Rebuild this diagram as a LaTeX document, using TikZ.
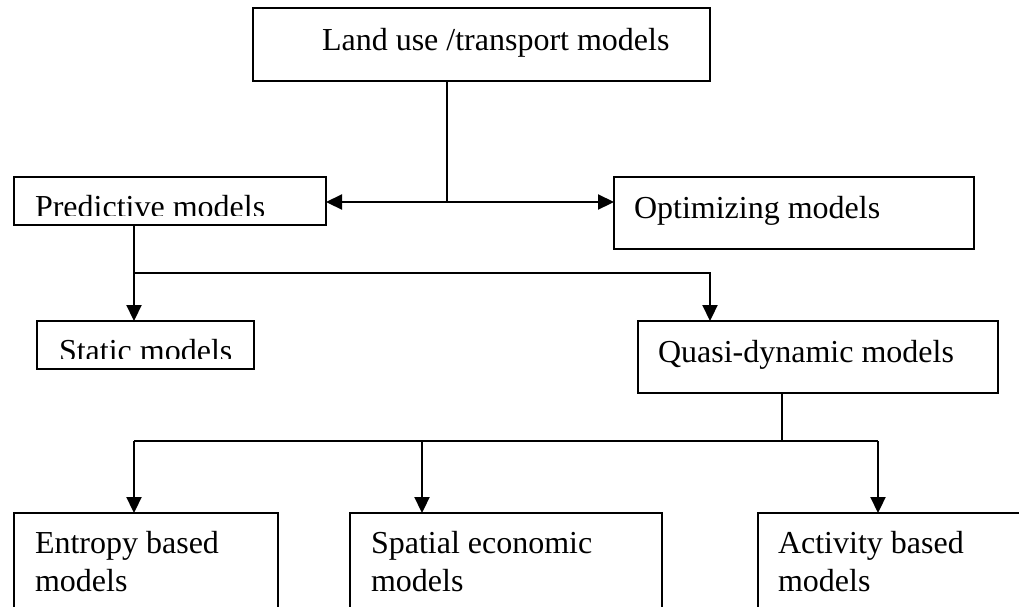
\documentclass[tikz,border=0pt]{standalone}
\usepackage{fontspec}
\setmainfont{Liberation Serif}
\usetikzlibrary{arrows.meta,fit}
\begin{document}
\begin{tikzpicture}[x=1pt,y=-1pt,
  box/.style={draw=black, line width=2.4pt, inner sep=0pt, outer sep=0pt, fill=none},
  conn/.style={draw=black, line width=2.2pt},
  arr/.style={conn, -{Triangle[length=16pt,width=15pt]}},
  txt/.style={anchor=base west, inner sep=0pt, outer sep=0pt, font=\fontsize{32}{38}\selectfont}]
\fill[white] (0,0) rectangle (1019,606);
\clip (0,0) rectangle (1019,606);
% boxes
\node[box, fit={(253,8) (710,81)}] (top) {};
\node[box, fit={(14,177) (326,225)}] (pred) {};
\node[box, fit={(614,177) (974,249)}] (opt) {};
\node[box, fit={(37,321) (254,369)}] (stat) {};
\node[box, fit={(638,321) (998,393)}] (quasi) {};
\node[box, fit={(14,513) (278,660)}] (ent) {};
\node[box, fit={(350,513) (662,660)}] (spat) {};
\node[box, fit={(758,513) (1060,660)}] (act) {};
% texts
\node[txt] (toptxt) at (322,50) {Land use /transport models};
\begin{scope}
  \clip (20,180) rectangle (320,215);
  \node[txt] (predtxt) at (35,217) {Predictive models};
\end{scope}
\node[txt] (opttxt) at (634,218) {Optimizing models};
\begin{scope}
  \clip (40,324) rectangle (250,358);
  \node[txt] (stattxt) at (59,361) {Static models};
\end{scope}
\node[txt] (quasitxt) at (658,362) {Quasi-dynamic models};
\node[txt] (enttxta) at (35,553) {Entropy based};
\node[txt] (enttxtb) at (35,591) {models};
\node[txt] (spattxta) at (371,553) {Spatial economic};
\node[txt] (spattxtb) at (371,591) {models};
\node[txt] (acttxta) at (778,553) {Activity based};
\node[txt] (acttxtb) at (778,591) {models};
% junctions
\coordinate (j1) at (447,202);
\coordinate (j2) at (134,273);
\coordinate (j3) at (710,273);
\coordinate (k0) at (782,441);
\coordinate (ka) at (134,441);
\coordinate (kb) at (422,441);
\coordinate (kc) at (878,441);
% connectors
\draw[conn] (top.south -| j1) -- (j1);
\draw[arr] (j1) -- (pred.east |- j1);
\draw[arr] (j1) -- (opt.west |- j1);
\draw[arr] (pred.south -| j2) -- (stat.north -| j2);
\draw[arr] (j2) -- (j3) -- (quasi.north -| j3);
\draw[conn] (quasi.south -| k0) -- (k0);
\draw[conn] (ka) -- (kc);
\draw[arr] (ka) -- (ent.north -| ka);
\draw[arr] (kb) -- (spat.north -| kb);
\draw[arr] (kc) -- (act.north -| kc);
\end{tikzpicture}
\end{document}
